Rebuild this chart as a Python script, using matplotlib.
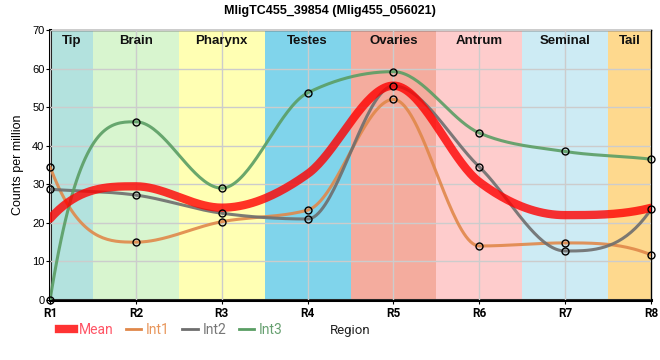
import numpy as np
import matplotlib
matplotlib.use("Agg")
import matplotlib.pyplot as plt
from matplotlib.lines import Line2D

plt.rcParams['font.family'] = ['Liberation Sans', 'DejaVu Sans']

regions = ['R1', 'R2', 'R3', 'R4', 'R5', 'R6', 'R7', 'R8']
int1 = [34.5, 15.0, 20.3, 23.3, 52.0, 14.0, 14.8, 11.7]
int2 = [28.7, 27.2, 22.5, 21.0, 55.5, 34.5, 12.7, 23.5]
int3 = [0.0, 46.2, 29.0, 53.7, 59.2, 43.3, 38.5, 36.5]
mean = list(np.mean([int1, int2, int3], axis=0))

bands = ['Tip', 'Brain', 'Pharynx', 'Testes', 'Ovaries', 'Antrum', 'Seminal', 'Tail']
band_edges = [0, 0.5, 1.5, 2.5, 3.5, 4.5, 5.5, 6.5, 7]
band_colors = ['#b3e2de', '#d8f5cf', '#ffffb3', '#80d4eb', '#f4ac9e',
               '#fecccc', '#cdebf4', '#fed98e']


def monotone(x, y, n=40):
    # monotone cubic hermite, steeper end tangents like the original
    x = np.asarray(x, float)
    y = np.asarray(y, float)
    h = np.diff(x)
    s = np.diff(y) / h
    t = np.zeros_like(y)
    for i in range(1, len(y) - 1):
        p = (s[i - 1] * h[i] + s[i] * h[i - 1]) / (h[i - 1] + h[i])
        t[i] = (np.sign(s[i - 1]) + np.sign(s[i])) * min(abs(s[i - 1]), abs(s[i]), 0.5 * abs(p))
    t[0] = 3 * s[0] - t[1]
    t[-1] = 3 * s[-1] - t[-2]
    xs, ys = [], []
    for i in range(len(h)):
        u = np.linspace(0, 1, n)
        h00 = 2 * u**3 - 3 * u**2 + 1
        h10 = u**3 - 2 * u**2 + u
        h01 = -2 * u**3 + 3 * u**2
        h11 = u**3 - u**2
        xs.append(x[i] + u * h[i])
        ys.append(h00 * y[i] + h10 * h[i] * t[i] + h01 * y[i + 1] + h11 * h[i] * t[i + 1])
    return np.concatenate(xs), np.concatenate(ys)


fig = plt.figure(figsize=(6.6, 3.6), dpi=100)
ax = fig.add_axes([0.0758, 0.1667, 0.9106, 0.75])
xpos = np.arange(len(regions))

for i in range(len(bands)):
    ax.axvspan(band_edges[i], band_edges[i + 1], color=band_colors[i], zorder=0, lw=0)
    ax.text((band_edges[i] + band_edges[i + 1]) / 2, 68.8, bands[i], ha='center', va='top',
            fontsize=9.5, fontweight='bold', color='#111111', zorder=5)

ax.grid(True, color='#cccccc', lw=1, zorder=1)
ax.set_axisbelow(False)
for gl in ax.get_xgridlines() + ax.get_ygridlines():
    gl.set_zorder(1)

series = [(int1, '#e0884a', 'Int1'), (int2, '#6e6e6e', 'Int2'), (int3, '#5a9e64', 'Int3')]
for vals, col, name in series:
    cx, cy = monotone(xpos, vals)
    ax.plot(cx, cy, color=col, lw=2.2, alpha=0.9, zorder=3, solid_capstyle='round')

cx, cy = monotone(xpos, mean)
ax.plot(cx, cy, color='#ff0000', lw=6, alpha=0.8, zorder=4, solid_capstyle='round')

for vals, col, name in series:
    ax.plot(xpos, vals, ls='none', marker='o', ms=5, mfc='none', mec='black', mew=1, zorder=6,
            clip_on=False)

ax.set_xlim(0, 7)
ax.set_ylim(0, 70)
ax.set_xticks(xpos)
ax.set_xticklabels(regions, fontsize=8.5, fontweight='bold', family='Roboto')
ax.set_yticks(range(0, 71, 10))
ax.tick_params(axis='y', labelsize=8, length=3, pad=1)
ax.tick_params(axis='x', length=3, pad=2)
for sp in ['top', 'right']:
    ax.spines[sp].set_linewidth(1)
for sp in ['left', 'bottom']:
    ax.spines[sp].set_linewidth(2.2)
ax.set_ylabel('Counts per million', fontsize=9, labelpad=6)

fig.suptitle('MligTC455_39854 (Mlig455_056021)', fontsize=9, fontweight='bold', y=0.985)

handles = [Line2D([], [], color='#ff3333', lw=6),
           Line2D([], [], color='#e0884a', lw=2),
           Line2D([], [], color='#6e6e6e', lw=2),
           Line2D([], [], color='#5a9e64', lw=2)]
leg = fig.legend(handles, ['Mean', 'Int1', 'Int2', 'Int3'], loc='center left',
                 bbox_to_anchor=(0.07, 0.083), ncol=4, frameon=False, handlelength=1.1,
                 handletextpad=0.35, columnspacing=0.9, prop={'family': 'Roboto', 'size': 10})
for txt, c in zip(leg.get_texts(), ['#ff5566', '#e8955a', '#777777', '#66a070']):
    txt.set_color(c)
fig.text(0.5, 0.083, 'Region', fontsize=9.5, family='Roboto', va='center', color='#222222')

fig.savefig('out.png', dpi=100)
